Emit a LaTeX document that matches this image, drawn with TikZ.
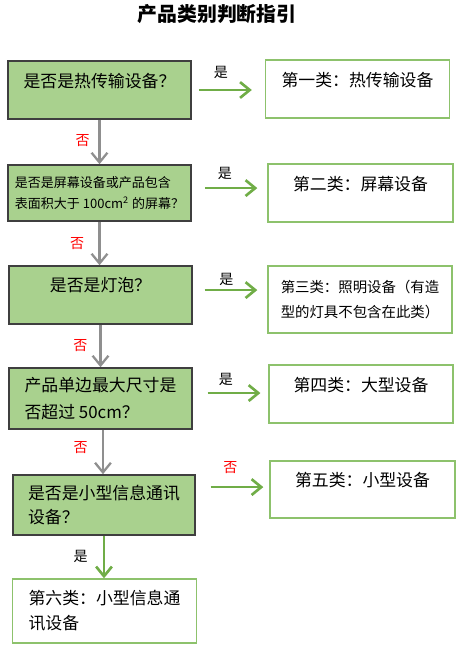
\documentclass[tikz,border=0pt]{standalone}
\usepackage{fontspec}
\setmainfont{Noto Sans CJK SC}
\usepackage{tikz}
\usetikzlibrary{arrows.meta}
\definecolor{qfill}{HTML}{A9D18E}
\definecolor{qline}{HTML}{3F3F3F}
\definecolor{rline}{HTML}{8DC26C}
\definecolor{yesgreen}{HTML}{70AD47}
\definecolor{nogray}{HTML}{8F8F8F}
%--question boxes and answer boxes
\tikzstyle{quest} = [draw=qline, line width=0.9pt, rectangle, fill=qfill, minimum width=3.66cm, minimum height=1.16cm, align=left, font=\fontsize{9.6}{15.5}\selectfont]
\tikzstyle{result} = [draw=rline, line width=0.8pt, rectangle, fill=white, minimum width=3.68cm, minimum height=1.16cm, align=left, font=\fontsize{9.6}{14.2}\selectfont]
\tikzstyle{toptext} = [text depth=11.5pt]
%--connectors and their labels
\tikzstyle{yesarrow} = [-{Straight Barb[length=5.5pt,width=9pt]}, yesgreen, line width=1.5pt]
\tikzstyle{noarrow} = [-{Straight Barb[length=5.5pt,width=9pt]}, nogray, line width=1.3pt]
\tikzstyle{tag} = [inner sep=1pt, font=\fontsize{8}{9}\selectfont]

\begin{document}
\begin{tikzpicture}[x=0.02cm, y=-0.02cm]
    \useasboundingbox (0,0) rectangle (458,650);
    \node[font=\fontsize{11.3}{13}\selectfont\bfseries] (title) at (217,14) {产品类别判断指引};
    \node[quest, toptext] (q1) at (99.5,90) {是否是热传输设备？};
    \node[quest, minimum height=1.12cm, font=\fontsize{7.4}{12}\selectfont] (q2) at (99.5,193) {是否是屏幕设备或产品包含\\表面积大于 100cm\textsuperscript{2} 的屏幕？};
    \node[quest, toptext] (q3) at (100.5,295) {是否是灯泡？};
    \node[quest, minimum height=1.22cm] (q4) at (100.5,398.5) {产品单边最大尺寸是\\否超过 50cm？};
    \node[quest, minimum width=3.64cm, minimum height=1.2cm, font=\fontsize{9.6}{14.2}\selectfont] (q5) at (104,505) {是否是小型信息通讯\\设备？};
    \node[result, toptext] (r1) at (357.5,89) {第一类：热传输设备};
    \node[result, toptext, minimum width=3.7cm] (r2) at (360.5,193) {第二类：屏幕设备};
    \node[result, minimum height=1.34cm, font=\fontsize{8.2}{14.7}\selectfont] (r3) at (360,299.5) {第三类：照明设备（有造\\型的灯具不包含在此类）};
    \node[result, toptext] (r4) at (361,394) {第四类：大型设备};
    \node[result, toptext, minimum width=3.7cm, minimum height=1.14cm] (r5) at (362.5,489.5) {第五类：小型设备};
    \node[result, minimum height=1.28cm] (r6) at (104.5,611) {第六类：小型信息通\\讯设备};
    \draw[yesarrow, shorten <=4pt, shorten >=7.4pt] (q1.east) -- node[tag, pos=0.4, above=4.7pt, black] {是} (q1.east -| r1.west);
    \draw[yesarrow, shorten <=7.4pt, shorten >=5.7pt] ([yshift=2.8pt]q2.east) -- node[tag, pos=0.44, above=3pt, black] {是} ([yshift=2.8pt]q2.east -| r2.west);
    \draw[yesarrow, shorten <=6.8pt, shorten >=5.7pt] ([yshift=2.8pt]q3.east) -- node[tag, pos=0.45, above=0.7pt, black] {是} ([yshift=2.8pt]q3.east -| r3.west);
    \draw[yesarrow, shorten <=8.5pt, shorten >=4.5pt] ([yshift=3.1pt]q4.east) -- node[tag, pos=0.44, above=2.4pt, black] {是} ([yshift=3.1pt]q4.east -| r4.west);
    \draw[yesarrow, shorten <=8.5pt, shorten >=3.4pt] ([yshift=10.2pt]q5.east) -- node[tag, pos=0.47, above=5.8pt, red] {否} ([yshift=10.2pt]q5.east -| r5.west);
    \draw[noarrow] (q1.south) -- node[tag, pos=0.46, left=4pt, red] {否} (q1.south |- q2.north);
    \draw[noarrow] (q2.south) -- node[tag, pos=0.51, left=7pt, red] {否} (q2.south |- q3.north);
    \draw[noarrow] (q3.south) -- node[tag, pos=0.48, left=5.8pt, red] {否} (q3.south |- q4.north);
    \draw[noarrow] ([xshift=1.4pt]q4.south) -- node[tag, pos=0.39, left=7pt, red] {否} ([xshift=1.4pt]q4.south |- q5.north);
    \draw[yesarrow] (q5.south) -- node[tag, pos=0.48, left=7.5pt, black] {是} (q5.south |- r6.north);
\end{tikzpicture}
\end{document}
